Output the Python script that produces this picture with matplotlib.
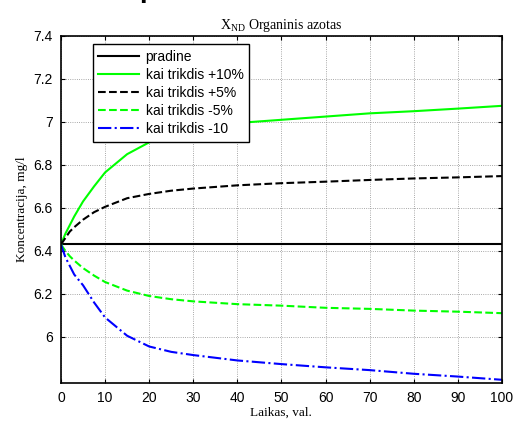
import numpy as np
import matplotlib
matplotlib.use("Agg")
import matplotlib.pyplot as plt

# laikas, val.
t = [0, 1, 2, 3, 5, 7.5, 10, 15, 20, 25, 30, 40, 50, 60, 70, 80, 90, 100]

pradine = [6.43] * len(t)
plus10 = [6.43, 6.48, 6.52, 6.56, 6.63, 6.70, 6.765, 6.85, 6.905, 6.94, 6.965,
          6.995, 7.01, 7.025, 7.04, 7.05, 7.062, 7.075]
plus5 = [6.43, 6.46, 6.49, 6.51, 6.545, 6.58, 6.605, 6.645, 6.665, 6.68, 6.69,
         6.705, 6.715, 6.722, 6.73, 6.737, 6.742, 6.748]
minus5 = [6.43, 6.40, 6.375, 6.355, 6.32, 6.285, 6.255, 6.215, 6.19, 6.175, 6.165,
          6.152, 6.145, 6.135, 6.13, 6.122, 6.117, 6.11]
minus10 = [6.43, 6.37, 6.33, 6.29, 6.24, 6.16, 6.09, 6.005, 5.955, 5.93, 5.915,
           5.89, 5.873, 5.858, 5.845, 5.828, 5.815, 5.80]

labels = ["pradine", "kai trikdis +10%", "kai trikdis +5%",
          "kai trikdis -5%", "kai trikdis -10"]
xticks = np.arange(0, 101, 10)
yticks = [6, 6.2, 6.4, 6.6, 6.8, 7, 7.2, 7.4]
yticklabels = ["6", "6.2", "6.4", "6.6", "6.8", "7", "7.2", "7.4"]

fig = plt.figure(figsize=(5.19, 4.22), dpi=100)
ax = fig.add_axes([0.1175, 0.0924, 0.8495, 0.8223])

lw = 1.5
ax.plot(t, pradine, color="black", lw=lw, label=labels[0])
ax.plot(t, plus10, color="#00ff00", lw=lw, label=labels[1])
ax.plot(t, plus5, color="black", lw=lw, ls="--", label=labels[2])
ax.plot(t, minus5, color="#00ff00", lw=lw, ls="--", label=labels[3])
ax.plot(t, minus10, color="#0000ff", lw=lw, ls="-.", label=labels[4])

ax.set_xlim(0, 100)
ax.set_ylim(5.785, 7.4)
ax.set_xticks(xticks)
ax.set_yticks(yticks)
ax.set_yticklabels(yticklabels)
ax.tick_params(direction="in", length=3, width=0.8, top=True, right=True,
               labelsize=10, pad=6)
for lab in ax.get_xticklabels() + ax.get_yticklabels():
    lab.set_fontfamily("Liberation Sans")
for s in ax.spines.values():
    s.set_linewidth(1.2)
ax.grid(True, color="0.55", lw=0.6, ls=":")
ax.set_axisbelow(True)

ax.set_title(r"X$_{\mathregular{ND}}$ Organinis azotas", family="Liberation Serif",
             fontsize=10, pad=5)
ax.set_xlabel("Laikas, val.", family="Liberation Serif", fontsize=9.5, labelpad=1)
ax.set_ylabel("Koncentracija, mg/l", family="Liberation Serif", fontsize=9.5,
              labelpad=4)

leg = ax.legend(loc="upper left", bbox_to_anchor=(0.072, 0.977),
                prop={"family": "Liberation Sans", "size": 10},
                frameon=True, fancybox=False, framealpha=1, edgecolor="black",
                handlelength=2.9, handletextpad=0.5, borderpad=0.4,
                labelspacing=0.3, borderaxespad=0)
leg.get_frame().set_linewidth(1.0)

# clipped fragment of the heading above the figure
fig.text(0.268, 1.008, "p", fontsize=20, fontweight="bold", va="baseline",
         family="Liberation Sans")

fig.savefig("out.png", dpi=100)
